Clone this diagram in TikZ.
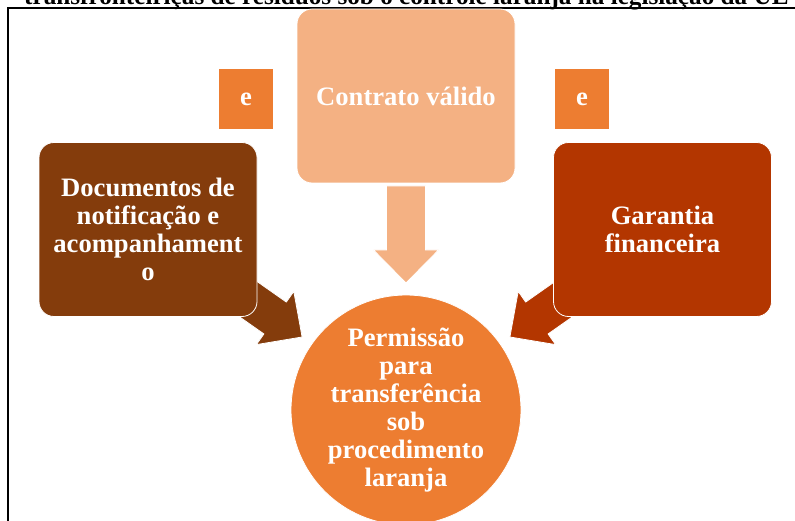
\documentclass[tikz,border=0pt]{standalone}
\usepackage{fontspec}
\setmainfont{Liberation Serif}
\usetikzlibrary{positioning}
\definecolor{lightorange}{HTML}{F4B183}
\definecolor{midorange}{HTML}{ED7D31}
\definecolor{darkbrown}{HTML}{843C0C}
\definecolor{rustred}{HTML}{B33600}

% block arrow pointing at the hub, #1 colour, #2 angle
\newcommand{\hubarrow}[2]{%
  \filldraw[#1, draw=white, line width=0.8pt, shift={(hub)}, rotate=#2]
    (127pt,0pt) -- (160pt,32.5pt) -- (160pt,19.5pt) -- (224pt,19.5pt)
    -- (224pt,-19.5pt) -- (160pt,-19.5pt) -- (160pt,-32.5pt) -- cycle;}

\begin{document}
\begin{tikzpicture}[
		x=1pt, y=-1pt,
		label/.style={text=white, align=center, font=\fontsize{26.6}{28}\selectfont\bfseries},
		block/.style={label, draw=white, line width=0.8pt, rounded corners=15pt, minimum width=218pt, minimum height=174pt},
		andbox/.style={label, fill=midorange, minimum width=54pt, minimum height=60pt, inner sep=0pt},
		target/.style={label, circle, fill=midorange, draw=white, line width=0.8pt, minimum size=230pt, inner sep=0pt},
	]
	\useasboundingbox (0,0) rectangle (795,521);

	\node[anchor=base west, inner sep=0pt, font=\fontsize{25.2}{28}\selectfont\bfseries] (title) at (24,4.5)
		{transfronteiriças de resíduos sob o controle laranja na legislação da UE};
	\draw[line width=2pt] (8,521) -- (8,8) -- (795,8);

	\coordinate (hub) at (406,410);
	\hubarrow{lightorange}{90}
	\hubarrow{darkbrown}{144.9}
	\hubarrow{rustred}{35.1}

	\node[block, fill=lightorange] (contract) at (406,96) {Contrato válido};
	\node[block, fill=darkbrown] (documents) at (148,229.5) {Documentos de\\notificação e\\acompanhament\\o};
	\node[block, fill=rustred] (guarantee) at (662.5,229.5) {Garantia\\financeira};
	\node[andbox] (andleft) at (246,99) {e};
	\node[andbox] (andright) at (582,99) {e};

	\node[target] (permission) at (hub) {Permissão\\para\\transferência\\sob\\procedimento\\laranja};
\end{tikzpicture}
\end{document}
